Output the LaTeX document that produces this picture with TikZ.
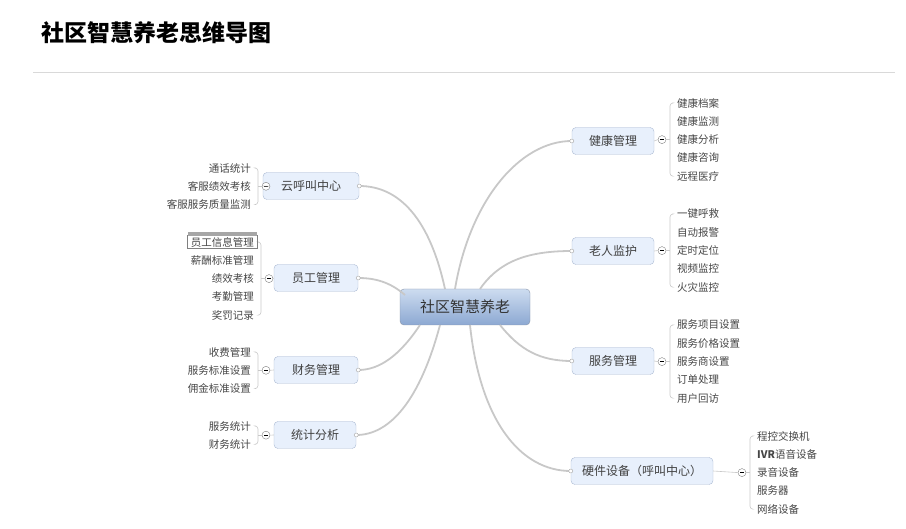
\documentclass[tikz,border=0pt]{standalone}
\usepackage{fontspec}
\newfontfamily\cjk{Noto Sans CJK SC}
\usetikzlibrary{positioning}
\definecolor{branchfill}{RGB}{232,240,252}
\definecolor{branchline}{RGB}{170,185,210}
\definecolor{roottop}{RGB}{205,220,240}
\definecolor{rootbot}{RGB}{140,168,210}
\definecolor{linkgray}{RGB}{200,200,200}
\definecolor{leafgray}{RGB}{70,70,70}
\tikzset{
  root/.style={draw=branchline!80!black,rounded corners=4pt,minimum width=130pt,minimum height=36pt,
    top color=roottop,bottom color=rootbot,font=\cjk\fontsize{15}{15}\selectfont,text=black!80},
  branch/.style={draw=branchline,fill=branchfill,rounded corners=4pt,minimum height=27pt,
    font=\cjk\fontsize{12}{12}\selectfont,text=black!75,inner xsep=8pt},
  leaf/.style={font=\cjk\fontsize{10.5}{10.5}\selectfont,text=leafgray,inner sep=1pt},
  link/.style={draw=linkgray,line width=1.8pt},
  bracket/.style={draw=linkgray,line width=0.6pt},
  knob/.style={circle,draw=gray,fill=white,inner sep=0pt,minimum size=8pt,
    path picture={\draw[black,line width=0.8pt] ([xshift=-2pt]path picture bounding box.center) -- ([xshift=2pt]path picture bounding box.center);}},
  port/.style={circle,draw=gray!70,fill=white,inner sep=0pt,minimum size=4pt}
}
\begin{document}
\begin{tikzpicture}[x=1pt,y=-1pt]
	\useasboundingbox (0,0) rectangle (906,529);
	% title
	\node[anchor=west,font=\cjk\bfseries\fontsize{23}{23}\selectfont] (title) at (38,33) {社区智慧养老思维导图};
	\draw[black!15,line width=0.8pt] (33,72) -- (895,72);
	% root and branches
	\node[root] (root) at (465,307) {社区智慧养老};
	\node[branch,minimum width=82pt] (health) at (613,141) {健康管理};
	\node[branch,minimum width=82pt] (elder) at (613,251) {老人监护};
	\node[branch,minimum width=82pt] (service) at (613,361) {服务管理};
	\node[branch,minimum width=142pt] (hw) at (642,471) {硬件设备（呼叫中心）};
	\node[branch,minimum width=96pt] (cloud) at (311,186) {云呼叫中心};
	\node[branch,minimum width=84pt] (staff) at (316,278) {员工管理};
	\node[branch,minimum width=84pt] (fin) at (316,370) {财务管理};
	\node[branch,minimum width=82pt] (stat) at (315,435) {统计分析};
	% links
	\draw[link] (455,289) .. controls (470,200) and (520,141) .. (health.west);
	\draw[link] (480,289) .. controls (500,260) and (530,251) .. (elder.west);
	\draw[link] (500,325) .. controls (520,350) and (540,361) .. (service.west);
	\draw[link] (470,325) .. controls (480,420) and (520,471) .. (hw.west);
	\draw[link] (445,289) .. controls (430,220) and (400,186) .. (cloud.east);
	\draw[link] (405,295) .. controls (390,282) and (375,278) .. (staff.east);
	\draw[link] (420,325) .. controls (400,355) and (380,370) .. (fin.east);
	\draw[link] (440,325) .. controls (420,400) and (390,435) .. (stat.east);
	\foreach \b in {health,elder,service,hw}{\node[port] at (\b.west) {};}
	\foreach \b in {cloud,staff,fin,stat}{\node[port] at (\b.east) {};}
	% right leaves
	\foreach \b/\x/\y/\items in {health/676/103/{健康档案,健康监测,健康分析,健康咨询,远程医疗},
	    elder/676/214/{一键呼救,自动报警,定时定位,视频监控,火灾监控},
	    service/676/325/{服务项目设置,服务价格设置,服务商设置,订单处理,用户回访},
	    hw/756/436/{程控交换机,\textbf{IVR}语音设备,录音设备,服务器,网络设备}}{
	  \node[knob] (k\b) at (\x-14,{\y+2*18.3}) {};
	  \draw[bracket] (k\b.west) -- (\b.east);
	  \draw[bracket,rounded corners=3pt] (\x-4,\y) -- (\x-6,\y) -- (\x-6,\y+4*18.3) -- (\x-4,\y+4*18.3);
	  \draw[bracket] (k\b.east) -- (\x-6,\y+2*18.3);
	  \foreach \t [count=\i from 0] in \items{\node[leaf,anchor=west] (l\b\i) at (\x,\y+\i*18.3) {\t};}
	}
	% left leaves
	\foreach \b/\x/\y/\n/\items in {cloud/252/168/2/{通话统计,客服绩效考核,客服服务质量监测},
	    staff/255/242/4/{员工信息管理,薪酬标准管理,绩效考核,考勤管理,奖罚记录},
	    fin/252/352/2/{收费管理,服务标准设置,佣金标准设置},
	    stat/252/426/1/{服务统计,财务统计}}{
	  \node[knob] (k\b) at (\x+14,{\y+\n*18.3/2}) {};
	  \draw[bracket] (k\b.east) -- (\b.west);
	  \draw[bracket,rounded corners=3pt] (\x+4,\y) -- (\x+6,\y) -- (\x+6,\y+\n*18.3) -- (\x+4,\y+\n*18.3);
	  \draw[bracket] (k\b.west) -- (\x+6,\y+\n*18.3/2);
	  \foreach \t [count=\i from 0] in \items{\node[leaf,anchor=east] (l\b\i) at (\x,\y+\i*18.3) {\t};}
	}
	% selected leaf frame
	\draw[gray,line width=0.8pt] ([xshift=-2pt]lstaff0.south west) rectangle ([xshift=2pt]lstaff0.north east);
	\fill[gray!70] ([xshift=-2pt]lstaff0.north west) rectangle ([xshift=2pt,yshift=4pt]lstaff0.north east);
\end{tikzpicture}
\end{document}
